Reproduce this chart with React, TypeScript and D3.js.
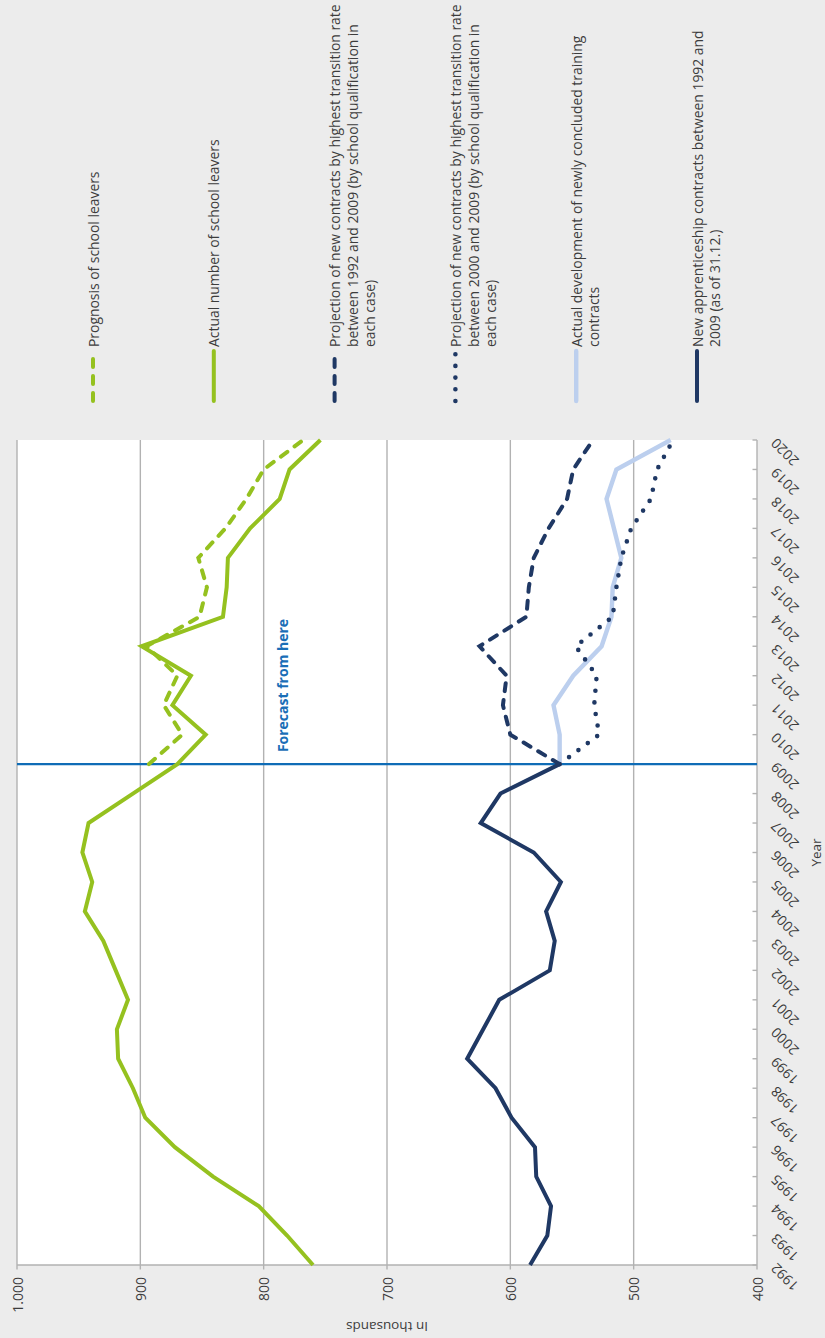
import React from 'react';
import * as d3 from 'd3';

// ---------- data ----------
const years = [1992, 1993, 1994, 1995, 1996, 1997, 1998, 1999, 2000, 2001, 2002, 2003, 2004, 2005, 2006, 2007, 2008, 2009, 2010, 2011, 2012, 2013, 2014, 2015, 2016, 2017, 2018, 2019, 2020];
const actualLeavers = [760, 781, 804, 841, 872, 896, 906, 918, 919, 910, 920, 930, 945, 939, 947, 942, 906, 870, 847, 874, 859, 899, 833, 830, 829, 811, 787, 779, 754];

const forecastYears = [2009, 2010, 2011, 2012, 2013, 2014, 2015, 2016, 2017, 2018, 2019, 2020];
const prognosisLeavers = [893, 866, 881, 870, 895, 852, 846, 853, 831, 814, 800, 768];
const projection1992 = [560, 600, 606, 603, 625, 587, 585, 581, 569, 554, 549, 533];
const projection2000 = [560, 528, 532, 530, 547, 517, 514, 510, 502, 486, 481, 468];
const actualDevelopment = [560, 560, 565, 549, 526, 518, 517, 510, 516, 522, 514, 470];

const contractYears = [1992, 1993, 1994, 1995, 1996, 1997, 1998, 1999, 2000, 2001, 2002, 2003, 2004, 2005, 2006, 2007, 2008, 2009];
const newContracts = [584, 570, 567, 579, 580, 599, 612, 635, 622, 609, 568, 564, 571, 559, 581, 624, 608, 560];

const valueTicks = [400, 500, 600, 700, 800, 900, 1000];
const valueTickLabels = ['400', '500', '600', '700', '800', '900', '1.000'];
const gridValues = [500, 600, 700, 800, 900, 1000];

const forecastYear = 2009;
const forecastLabel = 'Forecast from here';
const xTitle = 'Year';
const yTitle = 'In thousands';

const legendLabels = [
  ['Prognosis of school leavers'],
  ['Actual number of school leavers'],
  ['Projection of new contracts by highest transition rate', 'between 1992 and 2009 (by school qualification in', 'each case)'],
  ['Projection of new contracts by highest transition rate', 'between 2000 and 2009 (by school qualification in', 'each case)'],
  ['Actual development of newly concluded training', 'contracts'],
  ['New apprenticeship contracts between 1992 and', '2009 (as of 31.12.)'],
];

// ---------- styles ----------
const GREEN = '#95c11f';
const NAVY = '#1f3864';
const LIGHT = '#bccfee';
const BLUE = '#0f6cb6';
const GRID = '#b2b2b2';
const TEXT = '#3c3c3c';
const FONT = '"Open Sans", "Noto Sans", sans-serif';

type Series = { years: number[]; values: number[]; color: string; width: number; dash?: string };

const legendStyles: { color: string; width: number; dash?: string }[] = [
  { color: GREEN, width: 4, dash: '8 9' },
  { color: GREEN, width: 4 },
  { color: NAVY, width: 4, dash: '8 9' },
  { color: NAVY, width: 4.6, dash: '0 11.7' },
  { color: LIGHT, width: 4.4 },
  { color: NAVY, width: 4 },
];

// local (unrotated) frame
const LW = 1338;
const plot = { left: 73, right: 898, top: 17, bottom: 757 };

export default function App() {
  const x = d3.scaleLinear().domain([1992, 2020]).range([plot.left, plot.right]);
  const y = d3.scaleLinear().domain([400, 1000]).range([plot.bottom, plot.top]);

  const series: Series[] = [
    { years: forecastYears, values: actualDevelopment, color: LIGHT, width: 4.4 },
    { years: forecastYears, values: projection1992, color: NAVY, width: 4, dash: '8 9' },
    { years: forecastYears, values: projection2000, color: NAVY, width: 4.6, dash: '0 11.7' },
    { years: contractYears, values: newContracts, color: NAVY, width: 4 },
    { years: forecastYears, values: prognosisLeavers, color: GREEN, width: 4, dash: '8 9' },
    { years: years, values: actualLeavers, color: GREEN, width: 4 },
  ];

  const line = d3
    .line<[number, number]>()
    .x((d) => x(d[0]))
    .y((d) => y(d[1]));

  const legendStart = 93;
  const legendStep = 120.8;

  return (
    <svg
      width={825}
      height={1338}
      style={{ position: 'absolute', left: 0, top: 0, display: 'block' }}
      fontFamily={FONT}
    >
      <rect x={0} y={0} width={825} height={1338} fill="#ececec" />
      <g transform={`translate(0,${LW}) rotate(-90)`}>
        <rect x={plot.left} y={plot.top} width={plot.right - plot.left} height={plot.bottom - plot.top} fill="#ffffff" />
        {gridValues.map((v) => (
          <line key={'g' + v} x1={plot.left} x2={plot.right} y1={y(v)} y2={y(v)} stroke={GRID} strokeWidth={1.4} />
        ))}
        {/* value axis */}
        <line x1={plot.left} x2={plot.left} y1={plot.top} y2={plot.bottom} stroke={GRID} strokeWidth={1.4} />
        {valueTicks.map((v, i) => (
          <g key={'vt' + v}>
            <line x1={plot.left - 4.5} x2={plot.left} y1={y(v)} y2={y(v)} stroke={GRID} strokeWidth={1.4} />
            <text
              x={plot.left - 12}
              y={y(v)}
              textAnchor="end"
              dominantBaseline="central"
              fontSize={14}
              fill={TEXT}
            >
              {valueTickLabels[i]}
            </text>
          </g>
        ))}
        {/* year axis */}
        <line x1={plot.left} x2={plot.right} y1={plot.bottom} y2={plot.bottom} stroke={GRID} strokeWidth={1.4} />
        {years.map((yr) => (
          <g key={'yt' + yr}>
            <line x1={x(yr)} x2={x(yr)} y1={plot.bottom - 4.5} y2={plot.bottom} stroke={GRID} strokeWidth={1.4} />
            <text
              transform={`translate(${x(yr) + 3},${plot.bottom + 20}) rotate(-45)`}
              textAnchor="end"
              fontSize={14}
              fill={TEXT}
            >
              {yr}
            </text>
          </g>
        ))}
        <text x={(plot.left + plot.right) / 2} y={821} textAnchor="middle" fontSize={13.5} fill={TEXT}>
          {xTitle}
        </text>
        <text
          transform={`translate(16,${(plot.top + plot.bottom) / 2}) rotate(-90)`}
          textAnchor="middle"
          fontSize={13.5}
          fill={TEXT}
        >
          {yTitle}
        </text>

        {/* forecast marker */}
        <line x1={x(forecastYear)} x2={x(forecastYear)} y1={plot.top} y2={plot.bottom} stroke={BLUE} strokeWidth={2.2} />
        <text x={x(forecastYear) + 12} y={288} fontSize={14} fontWeight={700} fill="#1a6eb7">
          {forecastLabel}
        </text>

        {series.map((s, i) => (
          <path
            key={'s' + i}
            d={line(s.years.map((yr, j) => [yr, s.values[j]] as [number, number])) || ''}
            fill="none"
            stroke={s.color}
            strokeWidth={s.width}
            strokeDasharray={s.dash}
            strokeLinecap={s.dash ? 'round' : 'butt'}
            strokeLinejoin="miter"
          />
        ))}

        {/* legend */}
        {legendLabels.map((lines, i) => {
          const ly = legendStart + i * legendStep;
          const st = legendStyles[i];
          return (
            <g key={'l' + i}>
              <line
                x1={937}
                x2={987}
                y1={ly}
                y2={ly}
                stroke={st.color}
                strokeWidth={st.width}
                strokeDasharray={st.dash}
                strokeLinecap="round"
              />
              {lines.map((t, k) => (
                <text key={k} x={991} y={ly + 5.5 + k * 17.6} fontSize={13.9} fill={TEXT}>
                  {t}
                </text>
              ))}
            </g>
          );
        })}
      </g>
    </svg>
  );
}
